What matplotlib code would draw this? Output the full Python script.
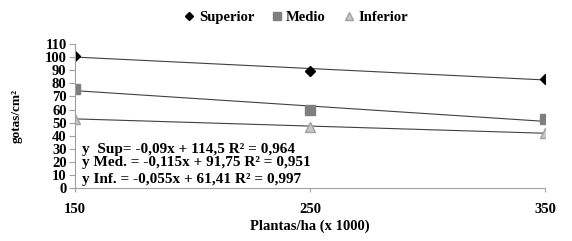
import numpy as np
import matplotlib.pyplot as plt

plt.rcParams['font.family'] = ['Liberation Serif', 'DejaVu Serif']
plt.rcParams['font.weight'] = 'bold'
plt.rcParams['axes.labelweight'] = 'bold'

plantas = [150, 250, 350]
superior = [101, 89.5, 83.5]
medio = [76, 59.5, 52.5]
inferior = [53, 47, 42]
eq_labels = ["y  Sup= -0,09x + 114,5 R² = 0,964",
             "y Med. = -0,115x + 91,75 R² = 0,951",
             "y Inf. = -0,055x + 61,41 R² = 0,997"]

fig = plt.figure(figsize=(5.72, 2.41), dpi=100)
ax = fig.add_axes([0.131, 0.22, 0.822, 0.597])

series = [
    ("Superior", superior, dict(marker="D", color="black", markersize=5)),
    ("Medio", medio, dict(marker="s", color="#7f7f7f", markersize=7)),
    ("Inferior", inferior, dict(marker="^", color="#c8c8c8", markeredgecolor="#a0a0a0", markersize=7)),
]

x = np.array(plantas)
for name, vals, style in series:
    ax.plot(plantas, vals, linestyle="none", label=name, **style)
    # linear trend line
    k, b = np.polyfit(x, vals, 1)
    ax.plot(x, k * x + b, color="#404040", lw=0.8, zorder=1)

ax.set_xlim(150, 350)
ax.set_ylim(0, 110)
ax.set_yticks(range(0, 111, 10))
ax.set_xticks(plantas)
for s in ["top", "right"]:
    ax.spines[s].set_visible(False)
for s in ["left", "bottom"]:
    ax.spines[s].set_color("#a0a0a0")
    ax.spines[s].set_linewidth(0.8)
ax.tick_params(axis="y", length=4, color="#a0a0a0", labelsize=10.5, pad=2)
ax.tick_params(axis="x", length=3, color="#a0a0a0", labelsize=10.5, pad=8)
ax.set_xlabel("Plantas/ha (x 1000)", fontsize=10.5, labelpad=2)
ax.set_ylabel("gotas/cm²", fontsize=9.5, labelpad=16)

for t, yv in zip(eq_labels, [29.5, 19.5, 6.5]):
    ax.text(153, yv, t, fontsize=11, va="center", ha="left")

ax.legend(loc="center", bbox_to_anchor=(0.47, 1.185), ncol=3, frameon=False,
          fontsize=10.5, handlelength=0.7, handletextpad=0.3, columnspacing=1.2,
          markerscale=0.75)
fig.savefig("out.png", dpi=100)
